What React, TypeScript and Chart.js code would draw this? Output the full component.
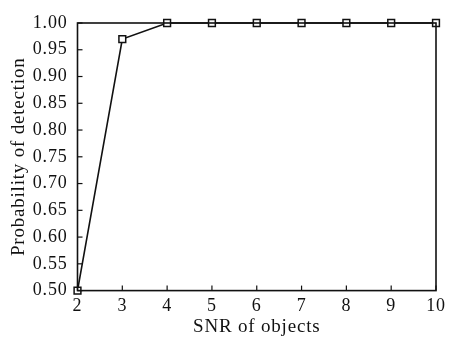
import React, { useEffect, useRef } from "react";
import { Chart, registerables } from "chart.js";

Chart.register(...registerables);

const snrValues = [2, 3, 4, 5, 6, 7, 8, 9, 10];
const detectionProb = [0.5, 0.97, 1.0, 1.0, 1.0, 1.0, 1.0, 1.0, 1.0];
const xTitle = "SNR of objects";
const yTitle = "Probability of detection";

const FONT = "'Liberation Serif', 'Times New Roman', serif";
const SPACING = "0.8px";

const spacingPlugin = {
  id: "spacing",
  beforeUpdate(chart: any) {
    chart.ctx.letterSpacing = SPACING;
  },
  beforeLayout(chart: any) {
    chart.ctx.letterSpacing = SPACING;
  },
  beforeDraw(chart: any) {
    chart.ctx.letterSpacing = SPACING;
  },
};

const framePlugin = {
  id: "frameTicks",
  afterDraw(chart: any) {
    const { ctx, chartArea, scales } = chart;
    const { left, right, top, bottom } = chartArea;
    ctx.save();
    ctx.strokeStyle = "#111";
    ctx.lineWidth = 1.6;
    ctx.strokeRect(left, top, right - left, bottom - top);
    ctx.lineWidth = 1.2;
    const tl = 5;
    scales.x.ticks.forEach((t: any) => {
      const px = scales.x.getPixelForValue(t.value);
      ctx.beginPath();
      ctx.moveTo(px, bottom);
      ctx.lineTo(px, bottom - tl);
      ctx.stroke();
    });
    scales.y.ticks.forEach((t: any) => {
      const py = scales.y.getPixelForValue(t.value);
      ctx.beginPath();
      ctx.moveTo(left, py);
      ctx.lineTo(left + tl, py);
      ctx.stroke();
    });
    ctx.restore();
  },
  afterDatasetsDraw(chart: any) {
    // redraw points on top of frame is handled by drawing order; nothing here
  },
};

export default function App() {
  const ref = useRef<HTMLCanvasElement>(null);
  useEffect(() => {
    if (!ref.current) return;
    const chart = new Chart(ref.current, {
      type: "line",
      data: {
        datasets: [
          {
            data: snrValues.map((x, i) => ({ x, y: detectionProb[i] })),
            borderColor: "#111",
            borderWidth: 1.6,
            pointStyle: "rect",
            pointRadius: 4.8,
            pointBorderWidth: 1.5,
            pointBackgroundColor: "#fff",
            pointBorderColor: "#111",
            tension: 0,
            clip: false,
          },
        ],
      },
      options: {
        animation: false,
        responsive: true,
        maintainAspectRatio: false,
        layout: { padding: { top: 23, right: 15, left: 8, bottom: 0 } },
        plugins: { legend: { display: false }, tooltip: { enabled: false } },
        scales: {
          x: {
            type: "linear",
            min: 2,
            max: 10,
            border: { display: false },
            grid: { display: false },
            ticks: {
              stepSize: 1,
              color: "#111",
              padding: -3,
              font: { family: FONT, size: 18 },
            },
            title: {
              display: true,
              text: xTitle,
              color: "#111",
              padding: { top: 1, bottom: 0 },
              font: { family: FONT, size: 19 },
            },
          },
          y: {
            min: 0.5,
            max: 1.0,
            border: { display: false },
            grid: { display: false },
            ticks: {
              stepSize: 0.05,
              color: "#111",
              padding: 2,
              font: { family: FONT, size: 18 },
              callback: (v: any) => Number(v).toFixed(2),
            },
            title: {
              display: true,
              text: yTitle,
              color: "#111",
              padding: { top: 0, bottom: 0 },
              font: { family: FONT, size: 19 },
            },
          },
        },
      },
      plugins: [spacingPlugin, framePlugin],
    });
    return () => chart.destroy();
  }, []);
  return (
    <div style={{ position: "absolute", left: 0, top: 0, width: 451, height: 338, background: "#fff" }}>
      <canvas ref={ref} />
    </div>
  );
}
